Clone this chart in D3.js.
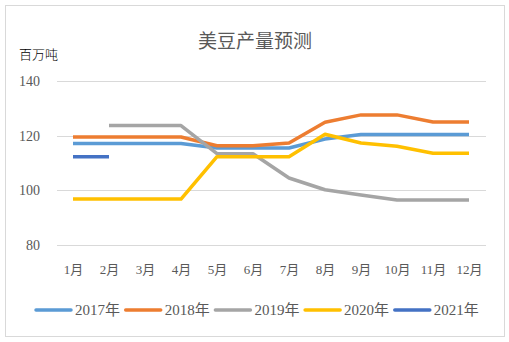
<!DOCTYPE html>
<html><head><meta charset="utf-8">
<script src="https://cdn.jsdelivr.net/npm/d3@7"></script>
<style>body{margin:0;background:#fff}</style>
</head><body><svg id="c" width="509" height="342"></svg>
<script>
const months = ["1月","2月","3月","4月","5月","6月","7月","8月","9月","10月","11月","12月"];
const yTicks = [80,100,120,140];
const s2017 = [117.1,117.1,117.1,117.1,115.5,115.5,115.5,118.8,120.4,120.4,120.4,120.4];
const s2018 = [119.5,119.5,119.5,119.5,116.3,116.3,117.3,124.9,127.6,127.6,125,125];
const s2019 = [null,123.7,123.7,123.7,113.4,113.4,104.5,100.2,98.3,96.5,96.5,96.5];
const s2020 = [96.8,96.8,96.8,96.8,112.3,112.3,112.3,120.5,117.3,116.1,113.6,113.6];
const s2021 = [112.3,112.3,null,null,null,null,null,null,null,null,null,null];
const seriesNames = ["2017年","2018年","2019年","2020年","2021年"];
const colors = ["#5B9BD5","#ED7D31","#A5A5A5","#FFC000","#4472C4"];
const seriesData = [s2017,s2018,s2019,s2020,s2021];

const svg = d3.select("#c");
const font = "'Liberation Serif','Noto Sans CJK SC',serif";
svg.append("rect").attr("x",5.5).attr("y",5.5).attr("width",499).attr("height",331)
  .attr("fill","#fff").attr("stroke","#d9d9d9").attr("stroke-width",1);

const x = d3.scalePoint().domain(months).range([73,469]);
const y = d3.scaleLinear().domain([80,140]).range([245,81]);

const grid = svg.append("g");
grid.selectAll("line").data(yTicks).join("line")
  .attr("x1",57).attr("x2",486).attr("y1",d=>Math.round(y(d))+0.5).attr("y2",d=>Math.round(y(d))+0.5)
  .attr("stroke","#d9d9d9").attr("stroke-width",1);

const yAxis = svg.append("g").attr("transform","translate(40,0)")
  .call(d3.axisLeft(y).tickValues(yTicks).tickSize(0).tickPadding(0));
yAxis.select(".domain").remove();
yAxis.selectAll("text").attr("font-family",font).attr("font-size",14).attr("fill","#595959");

const xAxis = svg.append("g").attr("transform","translate(0,262)")
  .call(d3.axisBottom(x).tickSize(0).tickPadding(3));
xAxis.select(".domain").remove();
xAxis.selectAll("text").attr("font-family",font).attr("font-size",13).attr("fill","#595959");

const line = d3.line().defined(d=>d!=null).x((d,i)=>x(months[i])).y(d=>y(d));
seriesData.forEach((s,k)=>{
  svg.append("path").datum(s).attr("d",line).attr("fill","none")
    .attr("stroke",colors[k]).attr("stroke-width",3.5).attr("stroke-linejoin","round");
});

svg.append("text").attr("x",255).attr("y",48).attr("text-anchor","middle")
  .attr("font-family",font).attr("font-size",19).attr("fill","#595959").text("美豆产量预测");
svg.append("text").attr("x",19).attr("y",59)
  .attr("font-family",font).attr("font-size",13).attr("font-weight",300).attr("fill","#000").text("百万吨");

const leg = svg.append("g");
seriesNames.forEach((n,k)=>{
  const lx = 35 + k*89.7;
  leg.append("line").attr("x1",lx+1).attr("x2",lx+36).attr("y1",310).attr("y2",310)
    .attr("stroke",colors[k]).attr("stroke-width",3.5).attr("stroke-linecap","round");
  leg.append("text").attr("x",lx+40).attr("y",315).attr("font-family",font)
    .attr("font-size",15).attr("fill","#595959").text(n);
});
</script></body></html>
